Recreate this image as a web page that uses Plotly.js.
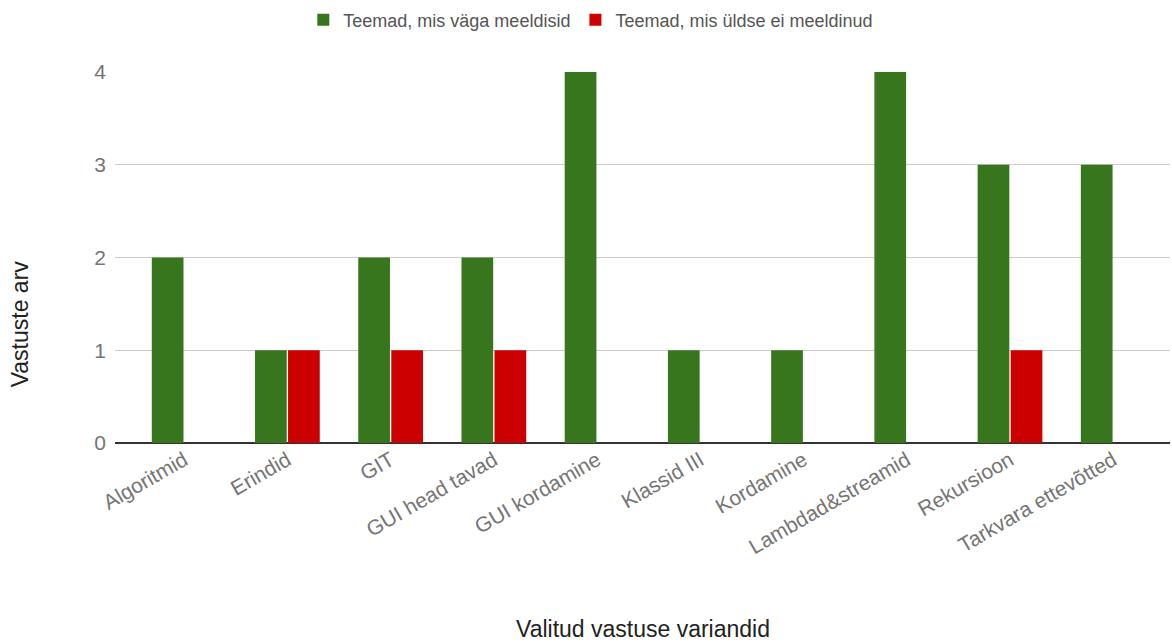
<!DOCTYPE html>
<html>
<head>
<meta charset="utf-8">
<script src="https://cdn.plot.ly/plotly-3.0.1.min.js"></script>
<style>
  html, body { margin: 0; padding: 0; background: #ffffff; }
  #chart { width: 1172px; height: 644px; }
</style>
</head>
<body>
<div id="chart"></div>
<script>
// Topics (x categories)
const topics = [
  'Algoritmid', 'Erindid', 'GIT', 'GUI head tavad', 'GUI kordamine',
  'Klassid III', 'Kordamine', 'Lambdad&streamid', 'Rekursioon', 'Tarkvara ettevõtted'
];

// Number of answers per topic
const likedVeryMuch = [2, 1, 2, 2, 4, 1, 1, 4, 3, 3];
const likedNotAtAll = [0, 1, 1, 1, 0, 0, 0, 0, 1, 0];

// Series names
const seriesNames = ['Teemad, mis väga meeldisid', 'Teemad, mis üldse ei meeldinud'];

// Y axis ticks
const yTicks = [0, 1, 2, 3, 4];

const FONT = 'Arial, "Liberation Sans", sans-serif';

const traces = [
  {
    type: 'bar',
    name: seriesNames[0],
    x: topics,
    y: likedVeryMuch,
    marker: { color: '#38761d', line: { width: 0 } },
    hoverinfo: 'x+y'
  },
  {
    type: 'bar',
    name: seriesNames[1],
    x: topics,
    y: likedNotAtAll,
    marker: { color: '#cc0000', line: { width: 0 } },
    hoverinfo: 'x+y'
  }
];

const layout = {
  width: 1172,
  height: 644,
  margin: { l: 115, r: 2, t: 72, b: 201 },
  paper_bgcolor: '#ffffff',
  plot_bgcolor: '#ffffff',
  font: { family: FONT, color: '#757575', size: 18 },
  barmode: 'group',
  bargap: 0.36,
  bargroupgap: 0.04,
  showlegend: true,
  legend: {
    orientation: 'h',
    x: 0.451,
    xanchor: 'center',
    y: 1.14,
    yanchor: 'middle',
    font: { family: FONT, size: 18, color: '#555555' },
    itemclick: false
  },
  xaxis: {
    type: 'category',
    range: [-0.67, 9.55],
    tickangle: -30,
    tickfont: { family: FONT, size: 21, color: '#757575' },
    showgrid: false,
    showline: false,
    zeroline: false,
    ticks: '',
    automargin: false
  },
  yaxis: {
    range: [0, 4],
    tickvals: yTicks,
    ticktext: yTicks.map(String),
    tickfont: { family: FONT, size: 21, color: '#757575' },
    showgrid: true,
    gridcolor: '#cccccc',
    gridwidth: 1,
    zeroline: true,
    zerolinecolor: '#333333',
    zerolinewidth: 1.5,
    showline: false,
    ticks: '',
    ticklabelstandoff: 8,
    automargin: false
  },
  annotations: [
    {
      text: 'Vastuste arv',
      xref: 'paper', yref: 'paper',
      x: -0.09, y: 0.32,
      xanchor: 'center', yanchor: 'middle',
      textangle: -90,
      showarrow: false,
      font: { family: FONT, size: 23, color: '#222222' }
    },
    {
      text: 'Valitud vastuse variandid',
      xref: 'paper', yref: 'paper',
      x: 0.50, y: -0.50,
      xanchor: 'center', yanchor: 'middle',
      showarrow: false,
      font: { family: FONT, size: 23, color: '#222222' }
    }
  ]
};

Plotly.newPlot('chart', traces, layout, { staticPlot: true, displayModeBar: false });
</script>
</body>
</html>
